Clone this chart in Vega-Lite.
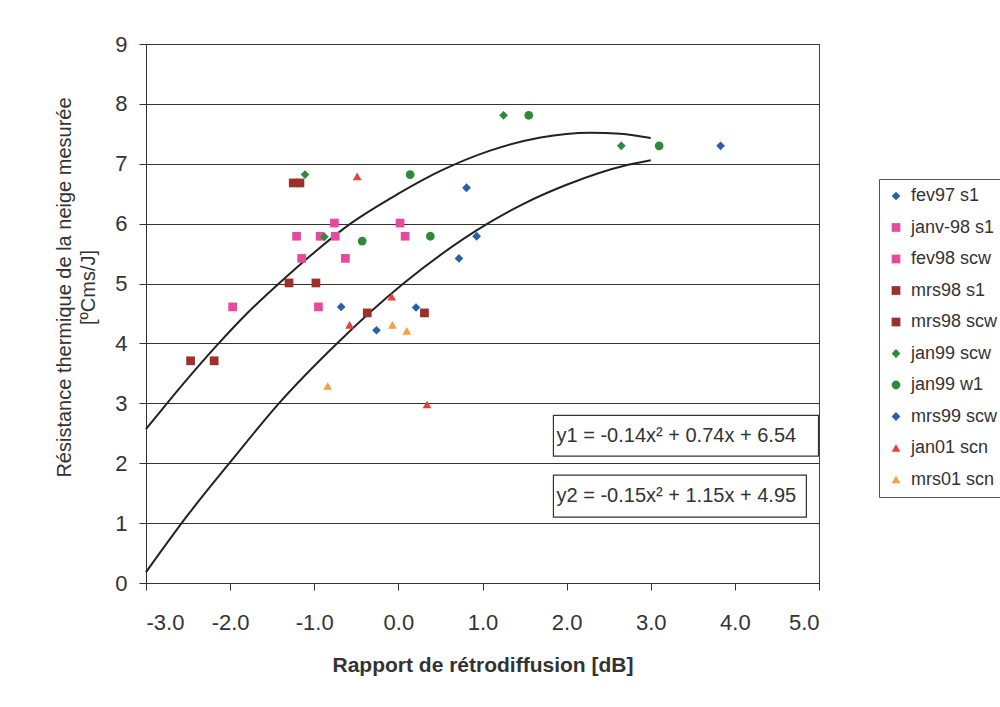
{
  "$schema": "https://vega.github.io/schema/vega-lite/v6.json",
  "width": 673,
  "height": 539,
  "autosize": {"type": "none"},
  "padding": {"left": 146, "top": 44, "right": 181, "bottom": 124},
  "background": "white",
  "config": {
    "font": "Liberation Sans",
    "locale": {"number": {"decimal": ".", "thousands": ",", "grouping": [3], "currency": ["", ""], "minus": "-"}},
    "view": {"stroke": "#444", "strokeWidth": 1},
    "axis": {"labelColor": "#333", "titleColor": "#333", "labelFontSize": 22, "domainColor": "#333", "tickColor": "#333", "tickSize": 7, "titleFontSize": 20},
    "axisX": {"grid": false, "titleFontWeight": "bold", "titleFontSize": 21, "titlePadding": 21, "labelPadding": 22},
    "axisY": {"grid": true, "gridColor": "#333", "gridWidth": 1.2, "gridOpacity": 1, "titleFontWeight": "normal", "titlePadding": 16, "titleLineHeight": 24, "labelPadding": 12, "titleY": 243},
    "legend": {"labelFontSize": 18, "labelColor": "#333"}
  },
  "datasets": {
    "pts": [
      {"series": "fev97 s1", "x": -0.68, "y": 4.61},
      {"series": "fev97 s1", "x": 0.21, "y": 4.60},
      {"series": "fev97 s1", "x": -0.26, "y": 4.22},
      {"series": "fev97 s1", "x": 0.72, "y": 5.42},
      {"series": "janv-98 s1", "x": -0.76, "y": 6.01},
      {"series": "janv-98 s1", "x": -1.21, "y": 5.79},
      {"series": "janv-98 s1", "x": -1.15, "y": 5.42},
      {"series": "janv-98 s1", "x": -1.97, "y": 4.61},
      {"series": "janv-98 s1", "x": -0.95, "y": 4.61},
      {"series": "fev98 scw", "x": 0.02, "y": 6.01},
      {"series": "fev98 scw", "x": -0.93, "y": 5.79},
      {"series": "fev98 scw", "x": -0.75, "y": 5.79},
      {"series": "fev98 scw", "x": 0.08, "y": 5.79},
      {"series": "fev98 scw", "x": -0.63, "y": 5.42},
      {"series": "mrs98 s1", "x": -1.25, "y": 6.68},
      {"series": "mrs98 s1", "x": -1.30, "y": 5.01},
      {"series": "mrs98 s1", "x": -2.47, "y": 3.71},
      {"series": "mrs98 s1", "x": -0.37, "y": 4.51},
      {"series": "mrs98 scw", "x": -1.17, "y": 6.68},
      {"series": "mrs98 scw", "x": -0.98, "y": 5.01},
      {"series": "mrs98 scw", "x": -2.19, "y": 3.71},
      {"series": "mrs98 scw", "x": 0.31, "y": 4.51},
      {"series": "jan99 scw", "x": -1.11, "y": 6.82},
      {"series": "jan99 scw", "x": -0.88, "y": 5.78},
      {"series": "jan99 scw", "x": 1.25, "y": 7.81},
      {"series": "jan99 scw", "x": 2.65, "y": 7.30},
      {"series": "jan99 w1", "x": 0.14, "y": 6.82},
      {"series": "jan99 w1", "x": -0.43, "y": 5.71},
      {"series": "jan99 w1", "x": 0.38, "y": 5.79},
      {"series": "jan99 w1", "x": 1.55, "y": 7.81},
      {"series": "jan99 w1", "x": 3.10, "y": 7.30},
      {"series": "mrs99 scw", "x": 0.81, "y": 6.60},
      {"series": "mrs99 scw", "x": 0.93, "y": 5.79},
      {"series": "mrs99 scw", "x": 3.83, "y": 7.30},
      {"series": "jan01 scn", "x": -0.49, "y": 6.79},
      {"series": "jan01 scn", "x": -0.08, "y": 4.78},
      {"series": "jan01 scn", "x": -0.58, "y": 4.31},
      {"series": "jan01 scn", "x": 0.34, "y": 2.98},
      {"series": "mrs01 scn", "x": -0.07, "y": 4.31},
      {"series": "mrs01 scn", "x": 0.10, "y": 4.21},
      {"series": "mrs01 scn", "x": -0.84, "y": 3.29}
    ],
    "curves": [
      {"curve": "y1", "x": -3.0, "y": 2.57},
      {"curve": "y1", "x": -2.75, "y": 3.0},
      {"curve": "y1", "x": -2.5, "y": 3.42},
      {"curve": "y1", "x": -2.15, "y": 3.98},
      {"curve": "y1", "x": -1.8, "y": 4.5},
      {"curve": "y1", "x": -1.42, "y": 5.0},
      {"curve": "y1", "x": -1.0, "y": 5.52},
      {"curve": "y1", "x": -0.59, "y": 5.98},
      {"curve": "y1", "x": 0.0, "y": 6.5},
      {"curve": "y1", "x": 0.5, "y": 6.88},
      {"curve": "y1", "x": 1.09, "y": 7.22},
      {"curve": "y1", "x": 1.69, "y": 7.44},
      {"curve": "y1", "x": 2.28, "y": 7.52},
      {"curve": "y1", "x": 2.64, "y": 7.5},
      {"curve": "y1", "x": 3.0, "y": 7.43},
      {"curve": "y2", "x": -3.0, "y": 0.18},
      {"curve": "y2", "x": -2.5, "y": 1.14},
      {"curve": "y2", "x": -1.98, "y": 2.05},
      {"curve": "y2", "x": -1.42, "y": 3.0},
      {"curve": "y2", "x": -0.73, "y": 4.0},
      {"curve": "y2", "x": 0.06, "y": 5.0},
      {"curve": "y2", "x": 1.06, "y": 6.0},
      {"curve": "y2", "x": 1.5, "y": 6.34},
      {"curve": "y2", "x": 2.0, "y": 6.65},
      {"curve": "y2", "x": 2.72, "y": 6.98},
      {"curve": "y2", "x": 3.0, "y": 7.06}
    ]
  },
  "layer": [
    {
      "data": {"name": "curves"},
      "mark": {"type": "line", "color": "#222", "strokeWidth": 2, "interpolate": "monotone"},
      "encoding": {
        "x": {"field": "x", "type": "quantitative", "scale": {"domain": [-3, 5], "nice": false, "zero": false},
          "axis": {"values": [-3, -2, -1, 0, 1, 2, 3, 4, 5], "format": ".1f", "title": "Rapport de rétrodiffusion [dB]"}},
        "y": {"field": "y", "type": "quantitative", "scale": {"domain": [0, 9], "nice": false},
          "axis": {"values": [0, 1, 2, 3, 4, 5, 6, 7, 8, 9], "format": "d", "title": ["Résistance thermique de la neige mesurée", "[ºCms/J]"]}},
        "detail": {"field": "curve"}
      }
    },
    {
      "data": {"name": "pts"},
      "mark": {"type": "point", "filled": true, "opacity": 1},
      "encoding": {
        "x": {"field": "x", "type": "quantitative"},
        "y": {"field": "y", "type": "quantitative"},
        "size": {"field": "series", "type": "nominal", "legend": null,
          "scale": {"domain": ["fev97 s1", "janv-98 s1", "fev98 scw", "mrs98 s1", "mrs98 scw", "jan99 scw", "jan99 w1", "mrs99 scw", "jan01 scn", "mrs01 scn"],
            "range": [75, 78, 78, 85, 85, 65, 60, 65, 105, 105]}},
        "color": {"field": "series", "type": "nominal",
          "scale": {"domain": ["fev97 s1", "janv-98 s1", "fev98 scw", "mrs98 s1", "mrs98 scw", "jan99 scw", "jan99 w1", "mrs99 scw", "jan01 scn", "mrs01 scn"],
            "range": ["#2b5fa8", "#e84a9b", "#e84a9b", "#9c302b", "#9c302b", "#2e8b3c", "#2e8b3c", "#2b5fa8", "#e8413b", "#f4a13f"]},
          "legend": {"title": null, "orient": "none", "legendX": 733, "legendY": 135, "strokeColor": "#555", "fillColor": "white", "padding": 8, "labelFontSize": 18, "labelColor": "#333", "symbolSize": 45, "rowPadding": 13.5, "labelOffset": 6, "labelLimit": 200}},
        "shape": {"field": "series", "type": "nominal",
          "scale": {"domain": ["fev97 s1", "janv-98 s1", "fev98 scw", "mrs98 s1", "mrs98 scw", "jan99 scw", "jan99 w1", "mrs99 scw", "jan01 scn", "mrs01 scn"],
            "range": ["diamond", "square", "square", "square", "square", "diamond", "circle", "diamond", "triangle-up", "triangle-up"]}}
      }
    },
    {
      "data": {"values": [{}]},
      "mark": {"type": "rect", "fill": "white", "stroke": "#333", "strokeWidth": 1.2},
      "encoding": {
        "x": {"datum": 1.843, "type": "quantitative"},
        "x2": {"datum": 4.994},
        "y": {"datum": 2.8, "type": "quantitative"},
        "y2": {"datum": 2.12}
      }
    },
    {
      "data": {"values": [{}]},
      "mark": {"type": "rect", "fill": "white", "stroke": "#333", "strokeWidth": 1.2},
      "encoding": {
        "x": {"datum": 1.843, "type": "quantitative"},
        "x2": {"datum": 4.85},
        "y": {"datum": 1.8, "type": "quantitative"},
        "y2": {"datum": 1.1}
      }
    },
    {
      "data": {"values": [{}]},
      "mark": {"type": "text", "align": "left", "baseline": "middle", "fontSize": 20, "color": "#333", "text": "y1 = -0.14x² + 0.74x + 6.54"},
      "encoding": {
        "x": {"datum": 1.88, "type": "quantitative"},
        "y": {"datum": 2.46, "type": "quantitative"}
      }
    },
    {
      "data": {"values": [{}]},
      "mark": {"type": "text", "align": "left", "baseline": "middle", "fontSize": 20, "color": "#333", "text": "y2 = -0.15x² + 1.15x + 4.95"},
      "encoding": {
        "x": {"datum": 1.88, "type": "quantitative"},
        "y": {"datum": 1.45, "type": "quantitative"}
      }
    }
  ]
}
